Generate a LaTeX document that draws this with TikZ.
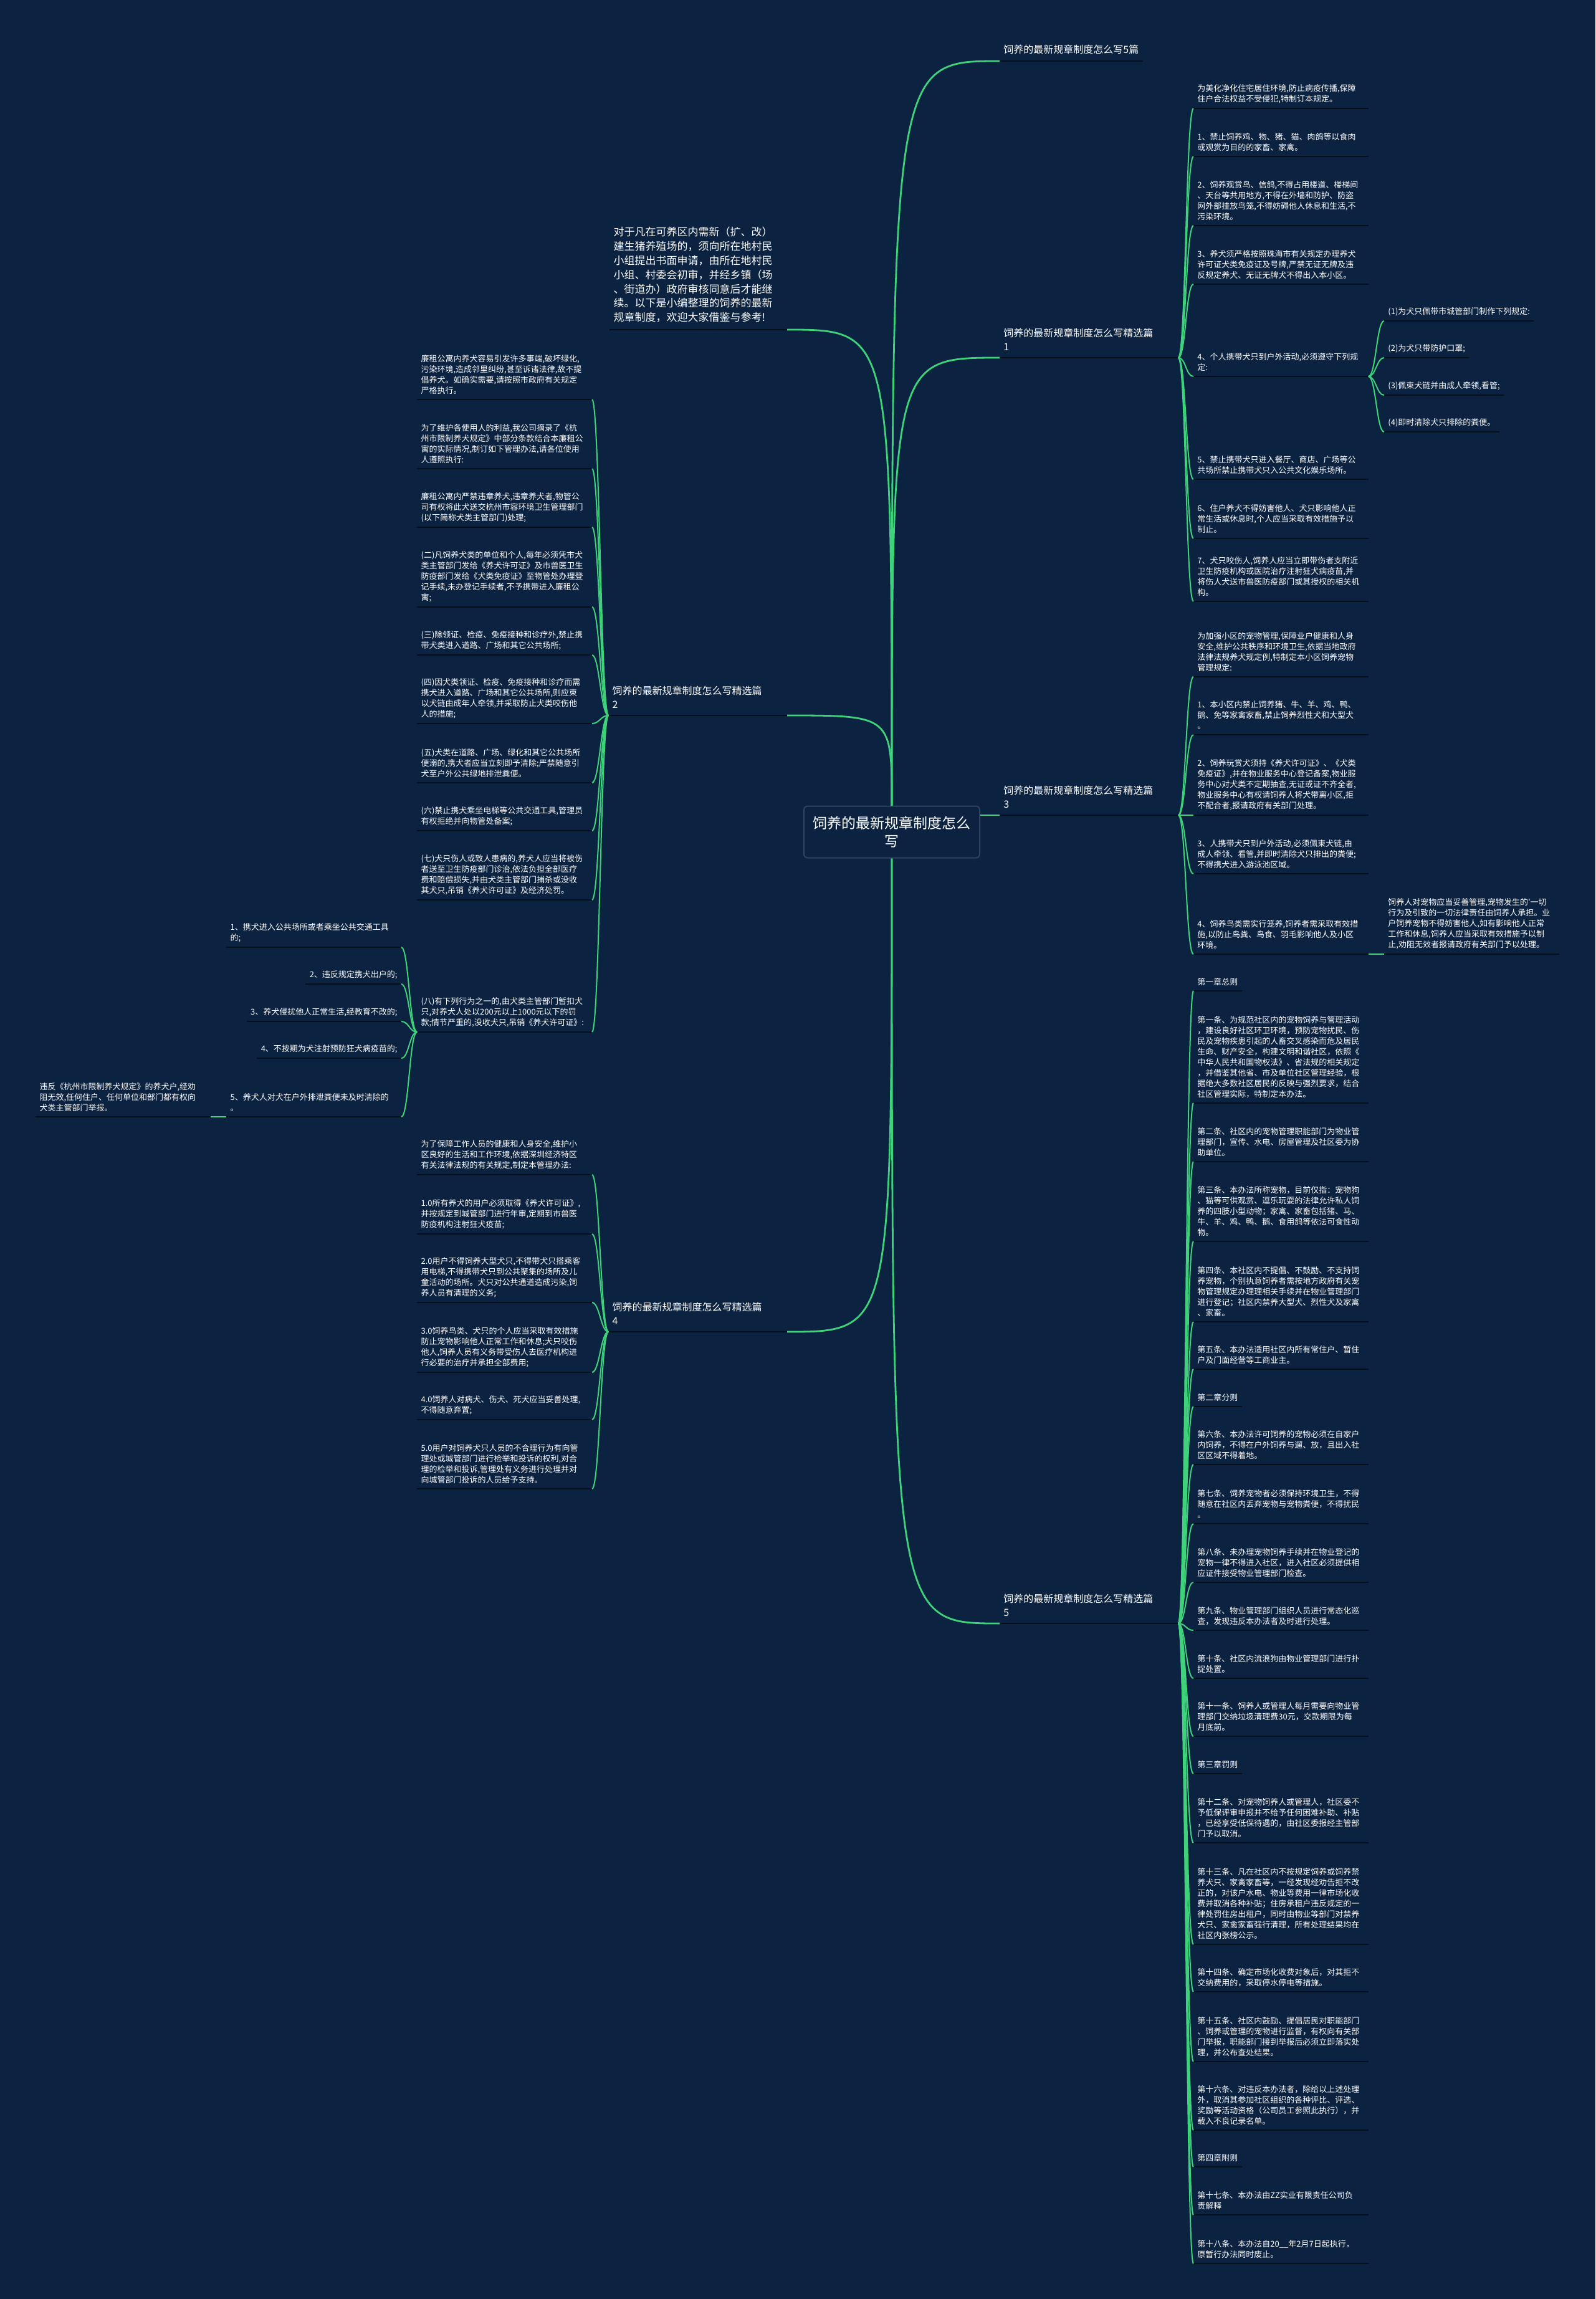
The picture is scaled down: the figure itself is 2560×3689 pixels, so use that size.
\documentclass[tikz,border=0pt]{standalone}
\usepackage{fontspec}
\newfontfamily\cjk{Noto Sans CJK SC}
\usetikzlibrary{positioning}

\definecolor{bgnavy}{HTML}{0B2240}
\definecolor{linkgreen}{HTML}{3ED37B}
\definecolor{ulinedark}{HTML}{050E1B}
\definecolor{rootedge}{HTML}{2E4460}

\newcommand\leaffont{\cjk\fontsize{6.5pt}{8.5pt}\selectfont}
\newcommand\branchfont{\cjk\fontsize{8pt}{11pt}\selectfont}
\newcommand\introfont{\cjk\fontsize{8.5pt}{11.4pt}\selectfont}
\newcommand\rootfont{\cjk\fontsize{11.5pt}{14.5pt}\selectfont}

\tikzset{
	uline/.style={draw=ulinedark, line width=1.2pt},
	ul/.style={append after command={(\tikzlastnode.south west) edge[uline] (\tikzlastnode.south east)}},
	rleaf/.style={ul, anchor=south west, align=left, text=white, font=\leaffont, inner xsep=3pt, inner ysep=4pt},
	lleaf/.style={rleaf, anchor=south east},
	wide/.style={text width=134pt},
	branch/.style={ul, anchor=south west, align=left, text=white, font=\branchfont, inner xsep=3pt, inner ysep=5.5pt},
	bwide/.style={text width=137pt},
	rootbox/.style={draw=rootedge, line width=1pt, rounded corners=3pt, fill=bgnavy, text=white, font=\rootfont, align=center, minimum width=141pt, minimum height=41.5pt},
	link/.style={draw=linkgreen, line width=1.4pt},
	sublink/.style={draw=linkgreen, line width=1pt},
	tor/.style={out=0, in=180, out distance=6pt, in distance=6pt},
	tol/.style={out=180, in=0, out distance=6pt, in distance=6pt},
}

\begin{document}
\begin{tikzpicture}[x=0.5pt, y=-0.5pt]
	\useasboundingbox (0,0) rectangle (2560,3689);
	\fill [bgnavy] (0,0) rectangle (2560,3689);

	% root
	\node [rootbox] (root) at (1431,1335) {饲养的最新规章制度怎么\\写};

	% branches
	\node [branch] (b0) at (1604,98) {饲养的最新规章制度怎么写5篇};
	\node [branch, bwide] (b1) at (1604,574) {饲养的最新规章制度怎么写精选篇\\1};
	\node [branch, bwide] (b3) at (1604,1308) {饲养的最新规章制度怎么写精选篇\\3};
	\node [branch, bwide] (b5) at (1604,2605) {饲养的最新规章制度怎么写精选篇\\5};
	\node [branch, bwide, anchor=south east] (b2) at (1263,1148) {饲养的最新规章制度怎么写精选篇\\2};
	\node [branch, bwide, anchor=south east] (b4) at (1263,2137) {饲养的最新规章制度怎么写精选篇\\4};
	\node [branch, anchor=south east, text width=136pt, font=\introfont] (intro) at (1263,529) {对于凡在可养区内需新（扩、改）\\建生猪养殖场的，须向所在地村民\\小组提出书面申请，由所在地村民\\小组、村委会初审，并经乡镇（场\\、街道办）政府审核同意后才能继\\续。以下是小编整理的饲养的最新\\规章制度，欢迎大家借鉴与参考!};

	\draw [link] (root.north) .. controls (root.north |- b0.south west) .. (b0.south west);
	\draw [link] (root.north) .. controls (root.north |- b1.south west) .. (b1.south west);
	\draw [link] (root.north) .. controls (root.north |- intro.south east) .. (intro.south east);
	\draw [link] (root.north) .. controls (root.north |- b2.south east) .. (b2.south east);
	\draw [link] (root.east |- b3.south west) -- (b3.south west);
	\draw [link] (root.south) .. controls (root.south |- b4.south east) .. (b4.south east);
	\draw [link] (root.south) .. controls (root.south |- b5.south west) .. (b5.south west);

	% branch 1
	\node [rleaf, wide] (c1) at (1915,174) {为美化净化住宅居住环境,防止病疫传播,保障\\住户合法权益不受侵犯,特制订本规定。};
	\node [rleaf, wide] (c2) at (1915,251) {1、禁止饲养鸡、物、猪、猫、肉鸽等以食肉\\或观赏为目的的家畜、家禽。};
	\node [rleaf, wide] (c3) at (1915,362) {2、饲养观赏鸟、信鸽,不得占用楼道、楼梯间\\、天台等共用地方,不得在外墙和防护、防盗\\网外部挂放鸟笼,不得妨碍他人休息和生活,不\\污染环境。};
	\node [rleaf, wide] (c4) at (1915,456) {3、养犬须严格按照珠海市有关规定办理养犬\\许可证犬类免疫证及号牌,严禁无证无牌及违\\反规定养犬、无证无牌犬不得出入本小区。};
	\node [rleaf, wide] (c5) at (1915,604) {4、个人携带犬只到户外活动,必须遵守下列规\\定:};
	\node [rleaf, wide] (c6) at (1915,769) {5、禁止携带犬只进入餐厅、商店、广场等公\\共场所禁止携带犬只入公共文化娱乐场所。};
	\node [rleaf, wide] (c7) at (1915,864) {6、住户养犬不得妨害他人、犬只影响他人正\\常生活或休息时,个人应当采取有效措施予以\\制止。};
	\node [rleaf, wide] (c8) at (1915,965) {7、犬只咬伤人,饲养人应当立即带伤者支附近\\卫生防疫机构或医院治疗注射狂犬病疫苗,并\\将伤人犬送市兽医防疫部门或其授权的相关机\\构。};
	\foreach \i in {1,...,8}
		\draw [sublink] (b1.south east) to[tor] (c\i.south west);

	\node [rleaf] (s1) at (2221,515) {(1)为犬只佩带市城管部门制作下列规定:};
	\node [rleaf] (s2) at (2221,574) {(2)为犬只带防护口罩;};
	\node [rleaf] (s3) at (2221,634) {(3)佩束犬链并由成人牵领,看管;};
	\node [rleaf] (s4) at (2221,693) {(4)即时清除犬只排除的粪便。};
	\foreach \i in {1,...,4}
		\draw [sublink] (c5.south east) to[tor] (s\i.south west);

	% branch 3
	\node [rleaf, wide] (d1) at (1915,1086) {为加强小区的宠物管理,保障业户健康和人身\\安全,维护公共秩序和环境卫生,依据当地政府\\法律法规养犬规定例,特制定本小区饲养宠物\\管理规定:};
	\node [rleaf, wide] (d2) at (1915,1179) {1、本小区内禁止饲养猪、牛、羊、鸡、鸭、\\鹅、免等家禽家畜,禁止饲养烈性犬和大型犬\\。};
	\node [rleaf, wide] (d3) at (1915,1308) {2、饲养玩赏犬须持《养犬许可证》、《犬类\\免疫证》,并在物业服务中心登记备案,物业服\\务中心对犬类不定期抽查,无证或证不齐全者,\\物业服务中心有权请饲养人将犬带离小区,拒\\不配合者,报请政府有关部门处理。};
	\node [rleaf, wide] (d4) at (1915,1402) {3、人携带犬只到户外活动,必须佩束犬链,由\\成人牵领、看管,并即时清除犬只排出的粪便;\\不得携犬进入游泳池区域。};
	\node [rleaf, wide] (d5) at (1915,1531) {4、饲养鸟类需实行笼养,饲养者需采取有效措\\施,以防止鸟粪、鸟食、羽毛影响他人及小区\\环境。};
	\foreach \i in {1,...,5}
		\draw [sublink] (b3.south east) to[tor] (d\i.south west);
	\node [rleaf, wide] (d6) at (2221,1531) {饲养人对宠物应当妥善管理,宠物发生的'一切\\行为及引致的一切法律责任由饲养人承担。业\\户饲养宠物不得妨害他人,如有影响他人正常\\工作和休息,饲养人应当采取有效措施予以制\\止,劝阻无效者报请政府有关部门予以处理。};
	\draw [sublink] (d5.south east) to[tor] (d6.south west);

	% branch 5
	\node [rleaf] (k1) at (1915,1590) {第一章总则};
	\node [rleaf, wide] (k2) at (1915,1770) {第一条、为规范社区内的宠物饲养与管理活动\\，建设良好社区环卫环境，预防宠物扰民、伤\\民及宠物疾患引起的人畜交叉感染而危及居民\\生命、财产安全，构建文明和谐社区，依照《\\中华人民共和国物权法》、省法规的相关规定\\，并借鉴其他省、市及单位社区管理经验，根\\据绝大多数社区居民的反映与强烈要求，结合\\社区管理实际，特制定本办法。};
	\node [rleaf, wide] (k3) at (1915,1864) {第二条、社区内的宠物管理职能部门为物业管\\理部门，宣传、水电、房屋管理及社区委为协\\助单位。};
	\node [rleaf, wide] (k4) at (1915,1992) {第三条、本办法所称宠物，目前仅指：宠物狗\\、猫等可供观赏、逗乐玩耍的法律允许私人饲\\养的四肢小型动物；家禽、家畜包括猪、马、\\牛、羊、鸡、鸭、鹅、食用鸽等依法可食性动\\物。};
	\node [rleaf, wide] (k5) at (1915,2121) {第四条、本社区内不提倡、不鼓励、不支持饲\\养宠物，个别执意饲养者需按地方政府有关宠\\物管理规定办理理相关手续并在物业管理部门\\进行登记；社区内禁养大型犬、烈性犬及家禽\\、家畜。};
	\node [rleaf, wide] (k6) at (1915,2197) {第五条、本办法适用社区内所有常住户、暂住\\户及门面经营等工商业主。};
	\node [rleaf] (k7) at (1915,2257) {第二章分则};
	\node [rleaf, wide] (k8) at (1915,2350) {第六条、本办法许可饲养的宠物必须在自家户\\内饲养，不得在户外饲养与遛、放，且出入社\\区区域不得着地。};
	\node [rleaf, wide] (k9) at (1915,2445) {第七条、饲养宠物者必须保持环境卫生，不得\\随意在社区内丢弃宠物与宠物粪便，不得扰民\\。};
	\node [rleaf, wide] (k10) at (1915,2539) {第八条、未办理宠物饲养手续并在物业登记的\\宠物一律不得进入社区，进入社区必须提供相\\应证件接受物业管理部门检查。};
	\node [rleaf, wide] (k11) at (1915,2616) {第九条、物业管理部门组织人员进行常态化巡\\查，发现违反本办法者及时进行处理。};
	\node [rleaf, wide] (k12) at (1915,2693) {第十条、社区内流浪狗由物业管理部门进行扑\\捉处置。};
	\node [rleaf, wide] (k13) at (1915,2786) {第十一条、饲养人或管理人每月需要向物业管\\理部门交纳垃圾清理费30元，交款期限为每\\月底前。};
	\node [rleaf] (k14) at (1915,2846) {第三章罚则};
	\node [rleaf, wide] (k15) at (1915,2957) {第十二条、对宠物饲养人或管理人，社区委不\\予低保评审申报并不给予任何困难补助、补贴\\，已经享受低保待遇的，由社区委报经主管部\\门予以取消。};
	\node [rleaf, wide] (k16) at (1915,3120) {第十三条、凡在社区内不按规定饲养或饲养禁\\养犬只、家禽家畜等，一经发现经劝告拒不改\\正的，对该户水电、物业等费用一律市场化收\\费并取消各种补贴；住房承租户违反规定的一\\律处罚住房出租户，同时由物业等部门对禁养\\犬只、家禽家畜强行清理，所有处理结果均在\\社区内张榜公示。};
	\node [rleaf, wide] (k17) at (1915,3196) {第十四条、确定市场化收费对象后，对其拒不\\交纳费用的，采取停水停电等措施。};
	\node [rleaf, wide] (k18) at (1915,3308) {第十五条、社区内鼓励、提倡居民对职能部门\\、饲养或管理的宠物进行监督，有权向有关部\\门举报，职能部门接到举报后必须立即落实处\\理，并公布查处结果。};
	\node [rleaf, wide] (k19) at (1915,3418) {第十六条、对违反本办法者，除给以上述处理\\外，取消其参加社区组织的各种评比、评选、\\奖励等活动资格（公司员工参照此执行），并\\载入不良记录名单。};
	\node [rleaf] (k20) at (1915,3477) {第四章附则};
	\node [rleaf, wide] (k21) at (1915,3554) {第十七条、本办法由ZZ实业有限责任公司负\\责解释};
	\node [rleaf, wide] (k22) at (1915,3632) {第十八条、本办法自20\_\_年2月7日起执行，\\原暂行办法同时废止。};
	\foreach \i in {1,...,22}
		\draw [sublink] (b5.south east) to[tor] (k\i.south west);

	% branch 2
	\node [lleaf, wide] (e1) at (950,641) {廉租公寓内养犬容易引发许多事端,破坏绿化,\\污染环境,造成邻里纠纷,甚至诉诸法律,故不提\\倡养犬。如确实需要,请按照市政府有关规定\\严格执行。};
	\node [lleaf, wide] (e2) at (950,752) {为了维护各使用人的利益,我公司摘录了《杭\\州市限制养犬规定》中部分条款结合本廉租公\\寓的实际情况,制订如下管理办法,请各位使用\\人遵照执行:};
	\node [lleaf, wide] (e3) at (950,846) {廉租公寓内严禁违章养犬,违章养犬者,物管公\\司有权将此犬送交杭州市容环境卫生管理部门\\(以下简称犬类主管部门)处理;};
	\node [lleaf, wide] (e4) at (950,974) {(二)凡饲养犬类的单位和个人,每年必须凭市犬\\类主管部门发给《养犬许可证》及市兽医卫生\\防疫部门发给《犬类免疫证》至物管处办理登\\记手续,未办登记手续者,不予携带进入廉租公\\寓;};
	\node [lleaf, wide] (e5) at (950,1051) {(三)除领证、检疫、免疫接种和诊疗外,禁止携\\带犬类进入道路、广场和其它公共场所;};
	\node [lleaf, wide] (e6) at (950,1161) {(四)因犬类领证、检疫、免疫接种和诊疗而需\\携犬进入道路、广场和其它公共场所,则应束\\以犬链由成年人牵领,并采取防止犬类咬伤他\\人的措施;};
	\node [lleaf, wide] (e7) at (950,1256) {(五)犬类在道路、广场、绿化和其它公共场所\\便溺的,携犬者应当立刻即予清除;严禁随意引\\犬至户外公共绿地排泄粪便。};
	\node [lleaf, wide] (e8) at (950,1333) {(六)禁止携犬乘坐电梯等公共交通工具,管理员\\有权拒绝并向物管处备案;};
	\node [lleaf, wide] (e9) at (950,1444) {(七)犬只伤人或致人患病的,养犬人应当将被伤\\者送至卫生防疫部门诊治,依法负担全部医疗\\费和赔偿损失,并由犬类主管部门捕杀或没收\\其犬只,吊销《养犬许可证》及经济处罚。};
	\node [lleaf, wide] (e10) at (950,1656) {(八)有下列行为之一的,由犬类主管部门暂扣犬\\只,对养犬人处以200元以上1000元以下的罚\\款;情节严重的,没收犬只,吊销《养犬许可证》:};
	\foreach \i in {1,...,10}
		\draw [sublink] (b2.south west) to[tol] (e\i.south east);

	\node [lleaf, wide] (f1) at (644,1520) {1、携犬进入公共场所或者乘坐公共交通工具\\的;};
	\node [lleaf] (f2) at (644,1579) {2、违反规定携犬出户的;};
	\node [lleaf] (f3) at (644,1639) {3、养犬侵扰他人正常生活,经教育不改的;};
	\node [lleaf] (f4) at (644,1698) {4、不按期为犬注射预防狂犬病疫苗的;};
	\node [lleaf, wide] (f5) at (644,1792) {5、养犬人对犬在户外排泄粪便未及时清除的\\。};
	\foreach \i in {1,...,5}
		\draw [sublink] (e10.south west) to[tol] (f\i.south east);
	\node [lleaf, wide] (g1) at (338,1792) {违反《杭州市限制养犬规定》的养犬户,经劝\\阻无效,任何住户、任何单位和部门都有权向\\犬类主管部门举报。};
	\draw [sublink] (f5.south west) to[tol] (g1.south east);

	% branch 4
	\node [lleaf, wide] (h1) at (950,1885) {为了保障工作人员的健康和人身安全,维护小\\区良好的生活和工作环境,依据深圳经济特区\\有关法律法规的有关规定,制定本管理办法:};
	\node [lleaf, wide] (h2) at (950,1980) {1.0所有养犬的用户必须取得《养犬许可证》,\\并按规定到城管部门进行年审,定期到市兽医\\防疫机构注射狂犬疫苗;};
	\node [lleaf, wide] (h3) at (950,2090) {2.0用户不得饲养大型犬只,不得带犬只搭乘客\\用电梯,不得携带犬只到公共聚集的场所及儿\\童活动的场所。犬只对公共通道造成污染,饲\\养人员有清理的义务;};
	\node [lleaf, wide] (h4) at (950,2202) {3.0饲养鸟类、犬只的个人应当采取有效措施\\防止宠物影响他人正常工作和休息;犬只咬伤\\他人,饲养人员有义务带受伤人去医疗机构进\\行必要的治疗并承担全部费用;};
	\node [lleaf, wide] (h5) at (950,2278) {4.0饲养人对病犬、伤犬、死犬应当妥善处理,\\不得随意弃置;};
	\node [lleaf, wide] (h6) at (950,2389) {5.0用户对饲养犬只人员的不合理行为有向管\\理处或城管部门进行检举和投诉的权利,对合\\理的检举和投诉,管理处有义务进行处理并对\\向城管部门投诉的人员给予支持。};
	\foreach \i in {1,...,6}
		\draw [sublink] (b4.south west) to[tol] (h\i.south east);
\end{tikzpicture}
\end{document}
